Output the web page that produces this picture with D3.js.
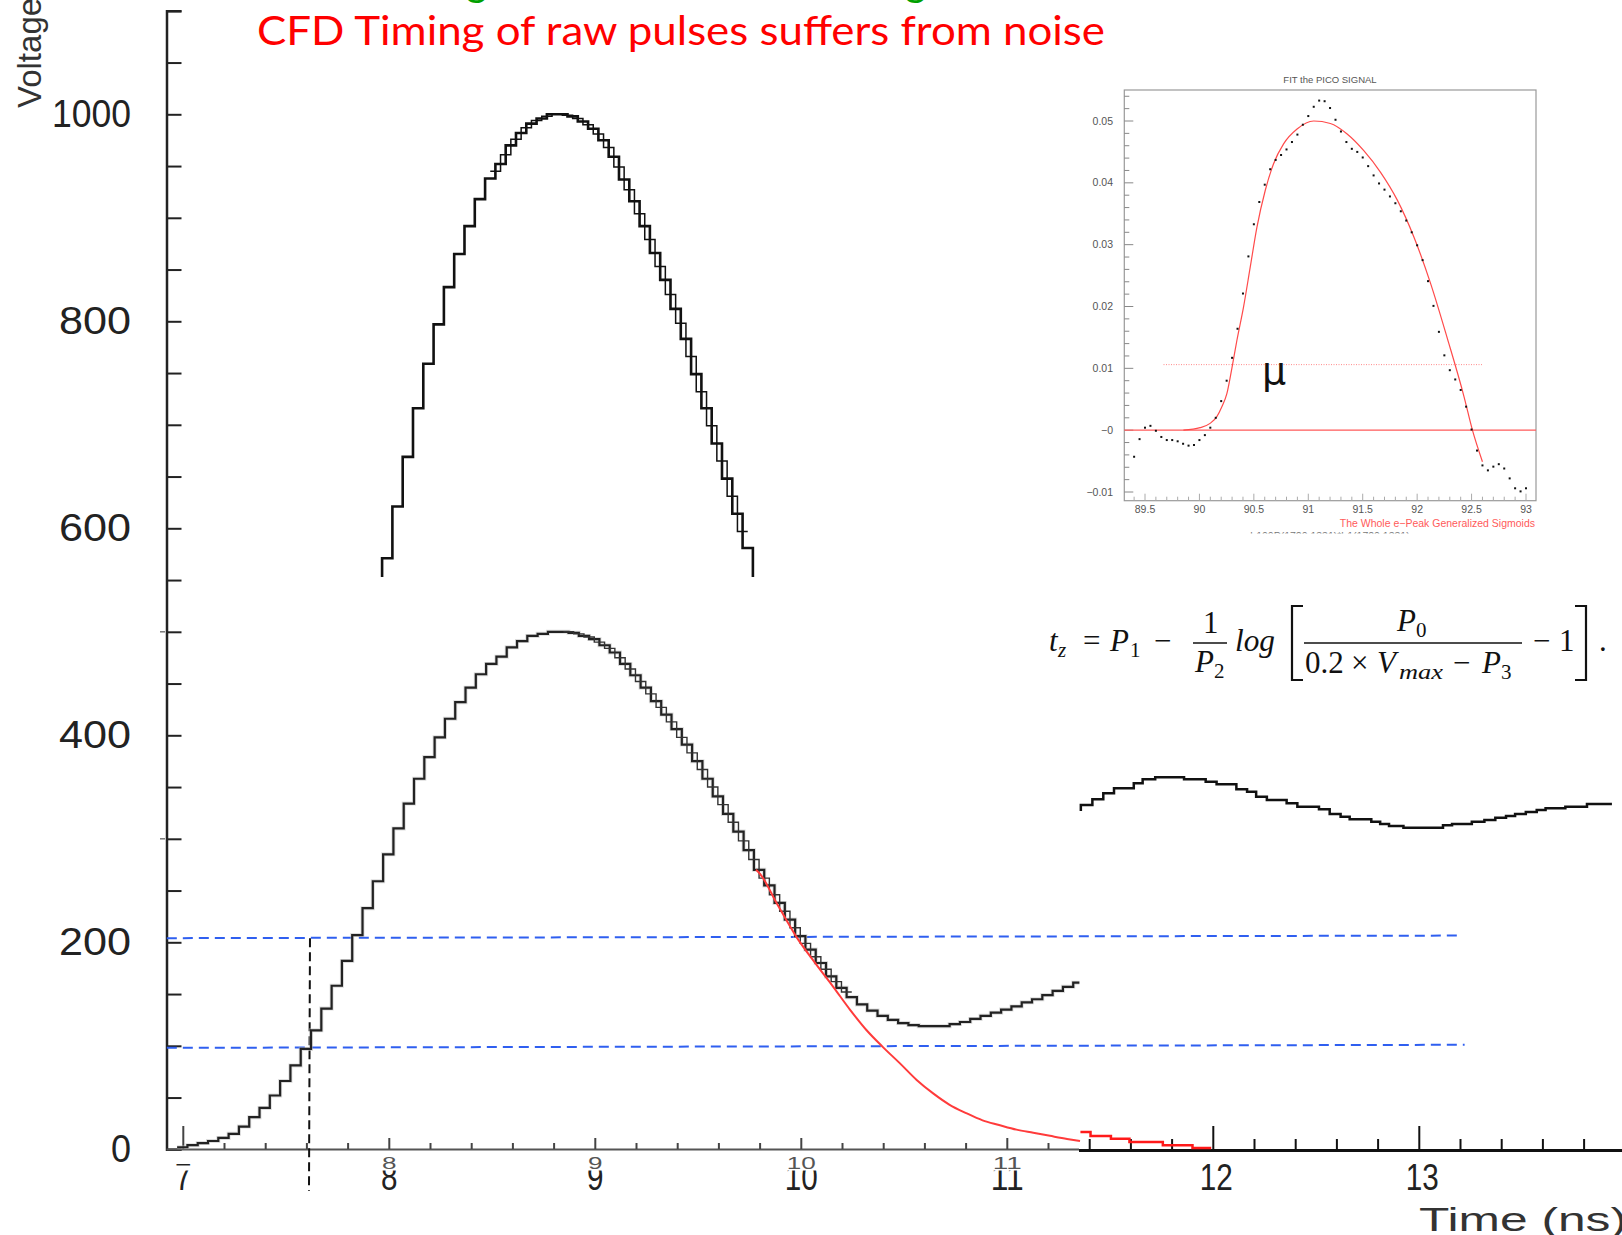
<!DOCTYPE html>
<html>
<head>
<meta charset="utf-8">
<script src="https://cdn.jsdelivr.net/npm/d3@7"></script>
<style>
  html, body { margin: 0; padding: 0; background: #fff; }
  svg { display: block; }
</style>
</head>
<body>
<svg id="chart" width="1622" height="1235"></svg>
<script>
// ---------------- data ----------------
// Upper pulse (scaled x2), 0.05 ns bins
const upperStart = 7.965, binWidth = 0.05;
const upperValues = [571,621,669,716,759,797,833,865,892,918,938,952,970,982,991,996,1000,1000,998,993,
  986,975,959,937,916,892,866,840,812,783,749,716,682,648,614,581];
const upperBase = 553;
// finer overlay histogram on the upper pulse
const upperFineStart = 8.49;
const upperFineValues = [945,961,976,987,994,998,1000,999,996,990,981,968,949,927,904,879,853,826,798,766,732,699,665,631,597];

// Raw pulse, 0.05 ns bins
const lowerStart = 7.02, lowerLead = 6.97, lowerLeadValue = 2, lowerEnd = 11.35;
const lowerValues = [4,6,8,11,15,22,31,40,52,66,81,97,115,136,158,182,207,233,259,285,
  310,334,358,379,398,416,432,446,459,469,476,485,491,496,498,500,500,499,496,493,
  487,480,469,458,446,433,420,406,391,375,358,341,324,307,289,270,255,238,222,206,
  193,180,167,156,147,140,134,129,125,122,120,119,119,119,121,123,126,129,132,135,
  138,142,145,149,153,157,161];
const lowerFineStart = 8.845;
const lowerFineValues = [500,498,495,490,484,475,464,452,440,427,413,398,383,367,350,333,316,298,280,262,246,230,214,199,186,174,162,152];

// Fit of the trailing edge
const fitTimes  = [9.78,9.80,9.88,9.977,10.075,10.155,10.236,10.317,10.395,10.479,10.56,10.64,10.72,10.80,10.88,10.96,11.045,11.126,11.207,11.29,11.353];
const fitValues = [270,266,238,205,178,157,135,115,99,83,67,54,43,35,28,23.5,19,16,13,10,8];
const fitTailTimes  = [11.355,11.404,11.503,11.593,11.755,11.899];
const fitTailValues = [16.8,12.9,10.3,7.1,3.9,1.3];
const fitTailEnd = 11.99;

// Late-time baseline oscillation
const tailTimes  = [11.357,11.413,11.466,11.518,11.614,11.657,11.718,11.858,11.963,12.016,12.112,12.164,12.208,12.26,
  12.356,12.408,12.513,12.565,12.618,12.662,12.767,12.81,12.853,12.923,13.115,13.159,13.255,13.316,13.369,13.421,
  13.465,13.517,13.57,13.613,13.709,13.814];
const tailValues = [332.6,338.2,343.9,348.8,353.6,357.5,359.4,357.5,355.2,352.7,347.8,345.5,340.7,337.5,
  334.3,331,328.5,324,321.4,318.8,316.5,314.3,312.4,310.7,313,314.3,316.5,318.2,320.4,322,
  324,325.9,327.8,329.5,331,333.6];
const tailBase = 326.8, tailEnd = 13.935;

// CFD thresholds (20% and 10%) and crossing time
const thresholdLevels = [[204, 206.5], [98, 101]];
const thresholdEnds = [13.19, 13.22];
const crossingTime = 7.615;

// Axis ticks / labels
const yLabels = [0, 200, 400, 600, 800, 1000];
const yLabelWidths = [20, 72, 72, 72, 72, 79];
const leftTimeLabels = [7, 8, 9, 10, 11];
const rightTimeLabels = [12, 13];

// Inset: sampled PICO signal and its generalized-sigmoid fit
const dotStart = 89.4, dotStep = 0.05;
const dotValues = [-0.0043,-0.00145,0.0004,0.0007,-0.0001,-0.0011,-0.0016,-0.0016,-0.0018,-0.0022,
  -0.0025,-0.0024,-0.0016,-0.0008,0.0004,0.0020,0.0047,0.0080,0.0117,0.0164,
  0.0221,0.0281,0.0333,0.0369,0.0397,0.0422,0.0437,0.0445,0.0454,0.0466,
  0.0478,0.0494,0.0508,0.0523,0.0533,0.0532,0.0521,0.0502,0.0483,0.0466,
  0.0455,0.0450,0.0441,0.0427,0.0412,0.0399,0.0389,0.0378,0.0367,0.0354,
  0.0339,0.0320,0.0299,0.0275,0.0241,0.0201,0.0159,0.0121,0.0097,0.0082,
  0.0065,0.0038,0.0001,-0.0033,-0.0057,-0.0065,-0.0059,-0.0055,-0.0062,-0.0078,
  -0.0094,-0.0099,-0.0094];
const insetFitT = [89.853,90.006,90.098,90.16,90.206,90.252,90.298,90.344,90.405,90.467,90.528,90.605,90.681,90.773,
  90.897,91.05,91.203,91.357,91.51,91.664,91.818,91.971,92.124,92.278,92.431,92.508,92.6];
const insetFitV = [0,0.0004,0.0011,0.0022,0.0038,0.0059,0.0100,0.0145,0.0199,0.0264,0.0328,0.0388,0.0431,0.0463,
  0.0487,0.0500,0.0496,0.0479,0.0452,0.0417,0.0372,0.0312,0.0237,0.0148,0.0054,0.0,-0.0051];
const insetLevel = 0.0106, insetLevelRange = [89.67, 92.6];
const insetXTicks = [89.5, 90, 90.5, 91, 91.5, 92, 92.5, 93];
const insetYTicks = [-0.01, 0, 0.01, 0.02, 0.03, 0.04, 0.05];
const insetYLabels = ["\u22120.01", "\u22120", "0.01", "0.02", "0.03", "0.04", "0.05"];

// ---------------- drawing ----------------
const svg = d3.select("#chart");
svg.append("rect").attr("width", 1622).attr("height", 1235).attr("fill", "#fff");

const x = d3.scaleLinear().domain([7, 14]).range([183.3, 1625.3]);
const y = d3.scaleLinear().domain([0, 1100]).range([1149.3, 10.8]);
const xLeftEdge = 166.5, xSplit = 1079;

function stepPoints(start, width, values, lead, endT, endLevel) {
  const pts = [];
  if (lead) pts.push(lead);
  values.forEach((v, i) => pts.push([start + i * width, v]));
  const tEnd = endT != null ? endT : start + values.length * width;
  pts.push([tEnd, values[values.length - 1]]);
  if (endLevel != null) pts.push([tEnd, endLevel]);
  return pts;
}
function pairPoints(ts, vs, lead, endT, endLevel) {
  const pts = [];
  if (lead) pts.push(lead);
  ts.forEach((t, i) => pts.push([t, vs[i]]));
  pts.push([endT, vs[vs.length - 1]]);
  if (endLevel != null) pts.push([endT, endLevel]);
  return pts;
}
const stepLine = d3.line().x(d => x(d[0])).y(d => y(d[1])).curve(d3.curveStepAfter);
const smoothLine = d3.line().x(d => x(d[0])).y(d => y(d[1])).curve(d3.curveMonotoneX);

// Green heading line cut off at the page top
const greenHead = svg.append("g").attr("fill", "#00a000")
  .attr("font-family", "Lato, 'Open Sans', sans-serif").attr("font-size", 41);
[466, 905].forEach(px => greenHead.append("text").attr("x", px).attr("y", -4).text("g"));

// Title
svg.append("text")
  .attr("x", 257).attr("y", 45)
  .attr("font-family", "Lato, 'Open Sans', sans-serif")
  .attr("font-size", 41).attr("fill", "#ff0000")
  .attr("textLength", 848).attr("lengthAdjust", "spacingAndGlyphs")
  .text("CFD Timing of raw pulses suffers from noise");

// ---- Y axis ----
const yAxis = d3.axisRight(y).tickValues(d3.range(0, 1101, 50)).tickSize(15).tickFormat("");
const gy = svg.append("g").attr("transform", `translate(${xLeftEdge},0)`).call(yAxis);
gy.select(".domain").attr("stroke", "#222").attr("stroke-width", 2.5);
gy.selectAll(".tick line").attr("stroke", "#222").attr("stroke-width", 2);
[300, 500].forEach(v => svg.append("line").attr("x1", 160).attr("x2", 165)
  .attr("y1", y(v)).attr("y2", y(v)).attr("stroke", "#777").attr("stroke-width", 1.5));

svg.append("g").selectAll("text").data(yLabels).join("text")
  .attr("x", 131).attr("y", d => y(d) + 13)
  .attr("text-anchor", "end")
  .attr("font-family", "'Liberation Sans', Arial, sans-serif")
  .attr("font-size", 38).attr("fill", "#222")
  .attr("textLength", (d, i) => yLabelWidths[i]).attr("lengthAdjust", "spacingAndGlyphs")
  .text(d => d);

svg.append("text")
  .attr("transform", "translate(41,108) rotate(-90)")
  .attr("font-family", "'Liberation Sans', Arial, sans-serif")
  .attr("font-size", 33).attr("fill", "#333")
  .text("Voltage");

// ---- X axis, left panel ----
const gxl = svg.append("g");
gxl.append("line").attr("x1", xLeftEdge).attr("x2", xSplit).attr("y1", 1149.5).attr("y2", 1149.5)
  .attr("stroke", "#555").attr("stroke-width", 2.2);
const leftMinor = d3.range(7.2, 11.3, 0.2).filter(t => Math.abs(t - Math.round(t)) > 0.05);
gxl.selectAll("line.mn").data(leftMinor).join("line").attr("class", "mn")
  .attr("x1", d => x(d)).attr("x2", d => x(d)).attr("y1", 1149).attr("y2", 1143)
  .attr("stroke", "#444").attr("stroke-width", 2);
gxl.selectAll("line.mj").data(leftTimeLabels).join("line").attr("class", "mj")
  .attr("x1", d => x(d)).attr("x2", d => x(d)).attr("y1", 1149).attr("y2", d => d === 7 ? 1126 : 1138)
  .attr("stroke", "#444").attr("stroke-width", 2);

// large labels, partly covered by the small ones
svg.append("g").selectAll("text").data(leftTimeLabels).join("text")
  .attr("x", d => x(d)).attr("y", 1189.5).attr("text-anchor", "middle")
  .attr("font-family", "'Liberation Sans', Arial, sans-serif")
  .attr("font-size", 36).attr("fill", "#222")
  .attr("textLength", d => String(d).length * 16.5).attr("lengthAdjust", "spacingAndGlyphs")
  .text(d => d);
svg.append("rect").attr("x", 170).attr("y", 1165.5).attr("width", 906).attr("height", 5).attr("fill", "#fff");
const smallLab = svg.append("g").selectAll("g").data(leftTimeLabels.slice(1)).join("g");
smallLab.append("rect")
  .attr("x", d => x(d) - String(d).length * 8 - 2).attr("y", 1154)
  .attr("width", d => String(d).length * 16 + 4).attr("height", 16).attr("fill", "#fff");
smallLab.append("text")
  .attr("x", d => x(d)).attr("y", 1168.5).attr("text-anchor", "middle")
  .attr("font-family", "'Liberation Sans', Arial, sans-serif")
  .attr("font-size", 17).attr("fill", "#555")
  .attr("textLength", d => String(d).length * 14.5).attr("lengthAdjust", "spacingAndGlyphs")
  .text(d => d);

// ---- X axis, right panel ----
const gxr = svg.append("g");
gxr.append("line").attr("x1", xSplit).attr("x2", 1622).attr("y1", 1150.5).attr("y2", 1150.5)
  .attr("stroke", "#111").attr("stroke-width", 3);
const rightMinor = d3.range(11.4, 14.0, 0.2).filter(t => Math.abs(t - Math.round(t)) > 0.05);
gxr.selectAll("line.mn").data(rightMinor).join("line").attr("class", "mn")
  .attr("x1", d => x(d)).attr("x2", d => x(d)).attr("y1", 1150).attr("y2", 1139)
  .attr("stroke", "#111").attr("stroke-width", 2);
gxr.selectAll("line.mj").data(rightTimeLabels).join("line").attr("class", "mj")
  .attr("x1", d => x(d)).attr("x2", d => x(d)).attr("y1", 1150).attr("y2", 1126)
  .attr("stroke", "#111").attr("stroke-width", 2);
gxr.selectAll("text").data(rightTimeLabels).join("text")
  .attr("x", d => x(d) + 3).attr("y", 1189.5).attr("text-anchor", "middle")
  .attr("font-family", "'Liberation Sans', Arial, sans-serif")
  .attr("font-size", 36).attr("fill", "#222")
  .attr("textLength", 33).attr("lengthAdjust", "spacingAndGlyphs")
  .text(d => d);
svg.append("text")
  .attr("x", 1419).attr("y", 1231)
  .attr("font-family", "'Liberation Sans', Arial, sans-serif")
  .attr("font-size", 34).attr("fill", "#333")
  .attr("textLength", 208).attr("lengthAdjust", "spacingAndGlyphs")
  .text("Time (ns)");

// ---- CFD thresholds ----
thresholdLevels.forEach((lv, i) => {
  svg.append("line")
    .attr("x1", x(6.92)).attr("x2", x(thresholdEnds[i]))
    .attr("y1", y(lv[0])).attr("y2", y(lv[1]))
    .attr("stroke", "#2f5ff0").attr("stroke-width", 2).attr("stroke-dasharray", "10,6");
});
svg.append("line")
  .attr("x1", x(crossingTime)).attr("x2", x(crossingTime) - 1)
  .attr("y1", y(thresholdLevels[0][0])).attr("y2", 1191)
  .attr("stroke", "#111").attr("stroke-width", 2).attr("stroke-dasharray", "9,5");

// ---- pulses ----
svg.append("path")
  .attr("d", stepLine(stepPoints(lowerStart, binWidth, lowerValues, [lowerLead, lowerLeadValue], lowerEnd)))
  .attr("fill", "none").attr("stroke", "#bbb").attr("stroke-width", 4).attr("opacity", 0.5);
svg.append("path")
  .attr("d", stepLine(stepPoints(lowerStart, binWidth, lowerValues, [lowerLead, lowerLeadValue], lowerEnd)))
  .attr("fill", "none").attr("stroke", "#222").attr("stroke-width", 2.2);
svg.append("path")
  .attr("d", stepLine(stepPoints(lowerFineStart, binWidth, lowerFineValues)))
  .attr("fill", "none").attr("stroke", "#333").attr("stroke-width", 1.4);

svg.append("path")
  .attr("d", stepLine(stepPoints(upperStart, binWidth, upperValues, [upperStart, upperBase], null, upperBase)))
  .attr("fill", "none").attr("stroke", "#111").attr("stroke-width", 2.6);
svg.append("path")
  .attr("d", stepLine(stepPoints(upperFineStart, binWidth, upperFineValues)))
  .attr("fill", "none").attr("stroke", "#111").attr("stroke-width", 1.5);

// fit of the trailing edge
svg.append("path")
  .attr("d", smoothLine(fitTimes.map((t, i) => [t, fitValues[i]])))
  .attr("fill", "none").attr("stroke", "#ff3b3b").attr("stroke-width", 2);
svg.append("path")
  .attr("d", stepLine(pairPoints(fitTailTimes, fitTailValues, null, fitTailEnd)))
  .attr("fill", "none").attr("stroke", "#ff1a1a").attr("stroke-width", 2.5);

// late-time oscillation
svg.append("path")
  .attr("d", stepLine(pairPoints(tailTimes, tailValues, [tailTimes[0], tailBase], tailEnd)))
  .attr("fill", "none").attr("stroke", "#111").attr("stroke-width", 2.5);

// ---------------- inset ----------------
const inset = svg.append("g").attr("font-family", "'Liberation Sans', Arial, sans-serif");
const fx0 = 1124.3, fx1 = 1536, fy0 = 90, fy1 = 500.7;
const xi = d3.scaleLinear().domain([89.5, 93]).range([1145, 1526]);
const yi = d3.scaleLinear().domain([-0.01, 0.05]).range([492, 121]);

inset.append("rect").attr("x", fx0).attr("y", fy0).attr("width", fx1 - fx0).attr("height", fy1 - fy0)
  .attr("fill", "#fff").attr("stroke", "#999").attr("stroke-width", 1.2);
inset.append("text").attr("x", 1330).attr("y", 83).attr("text-anchor", "middle")
  .attr("font-size", 9.5).attr("fill", "#555").text("FIT the PICO  SIGNAL");

// y ticks inside the frame
const yMinorI = d3.range(-0.010, 0.0551, 0.002);
inset.selectAll("line.ymn").data(yMinorI).join("line").attr("class", "ymn")
  .attr("x1", fx0).attr("x2", d => fx0 + (Math.abs(d * 100 - Math.round(d * 100)) < 1e-6 ? 9 : 5))
  .attr("y1", d => yi(d)).attr("y2", d => yi(d)).attr("stroke", "#888").attr("stroke-width", 1);
inset.selectAll("text.yl").data(insetYTicks).join("text").attr("class", "yl")
  .attr("x", 1113).attr("y", d => yi(d) + 3.5).attr("text-anchor", "end")
  .attr("font-size", 10.5).attr("fill", "#555")
  .text((d, i) => insetYLabels[i]);

// x ticks
const xMinorI = d3.range(89.4, 93.05, 0.1);
inset.selectAll("line.xmn").data(xMinorI).join("line").attr("class", "xmn")
  .attr("x1", d => xi(d)).attr("x2", d => xi(d)).attr("y1", fy1)
  .attr("y2", d => fy1 - (Math.abs(d * 2 - Math.round(d * 2)) < 1e-6 ? 7 : 4))
  .attr("stroke", "#aaa").attr("stroke-width", 1);
inset.selectAll("text.xl").data(insetXTicks).join("text").attr("class", "xl")
  .attr("x", d => xi(d)).attr("y", 513).attr("text-anchor", "middle")
  .attr("font-size", 10.5).attr("fill", "#555").text(d => d);
inset.append("text").attr("x", 1535).attr("y", 527).attr("text-anchor", "end")
  .attr("font-size", 10.5).attr("fill", "#ff5a5a")
  .text("The Whole e\u2212Peak Generalized Sigmoids");
const clip = svg.append("clipPath").attr("id", "cut");
clip.append("rect").attr("x", 1200).attr("y", 525).attr("width", 260).attr("height", 8.5);
inset.append("text").attr("x", 1330).attr("y", 540).attr("text-anchor", "middle")
  .attr("clip-path", "url(#cut)")
  .attr("font-size", 10.5).attr("fill", "#777").text("h100P(1720:1331)*h1(1720:1331)");

// zero line and CFD level
inset.append("line").attr("x1", fx0).attr("x2", fx1).attr("y1", yi(0)).attr("y2", yi(0))
  .attr("stroke", "#ff5a5a").attr("stroke-width", 1.4);
inset.append("line").attr("x1", xi(insetLevelRange[0])).attr("x2", xi(insetLevelRange[1]))
  .attr("y1", yi(insetLevel)).attr("y2", yi(insetLevel))
  .attr("stroke", "#ff8a8a").attr("stroke-width", 1).attr("stroke-dasharray", "1,1.5");

// fit
const insetLine = d3.line().x(d => xi(d[0])).y(d => yi(d[1])).curve(d3.curveMonotoneX);
inset.append("path").attr("d", insetLine(insetFitT.map((t, i) => [t, insetFitV[i]])))
  .attr("fill", "none").attr("stroke", "#ff4a4a").attr("stroke-width", 1.2);

// samples
inset.selectAll("rect.pt").data(dotValues).join("rect").attr("class", "pt")
  .attr("x", (d, i) => xi(dotStart + i * dotStep) - 1).attr("y", d => yi(d) - 1)
  .attr("width", 2).attr("height", 2).attr("fill", "#111");

inset.append("text").attr("x", 1262).attr("y", 384)
  .attr("font-family", "'DejaVu Sans', 'Liberation Sans', sans-serif")
  .attr("font-size", 38).attr("fill", "#111").text("\u03bc");

// ---------------- formula ----------------
const fm = svg.append("g").attr("font-family", "'Liberation Serif', 'DejaVu Serif', serif").attr("fill", "#111");
function ft(xp, yp, s, size, italic, len) {
  const t = fm.append("text").attr("x", xp).attr("y", yp).attr("font-size", size)
    .attr("font-style", italic ? "italic" : "normal").text(s);
  if (len) t.attr("textLength", len).attr("lengthAdjust", "spacingAndGlyphs");
}
ft(1049, 651, "t", 31, true);
ft(1058, 657, "z", 21, true);
ft(1083, 651, "=", 31, false);
ft(1110, 651, "P", 31, true);
ft(1130, 657, "1", 21, false);
ft(1154, 651, "\u2212", 31, false);
ft(1203, 633, "1", 31, false);
fm.append("line").attr("x1", 1193).attr("x2", 1227).attr("y1", 643).attr("y2", 643).attr("stroke", "#111").attr("stroke-width", 1.5);
ft(1195, 672, "P", 31, true);
ft(1214, 678, "2", 21, false);
ft(1235, 651, "log", 31, true, 40);
fm.append("path").attr("d", "M1303,606 H1292 V680 H1303").attr("fill", "none").attr("stroke", "#111").attr("stroke-width", 2.2);
ft(1397, 631, "P", 31, true);
ft(1416, 637, "0", 21, false);
fm.append("line").attr("x1", 1304).attr("x2", 1522).attr("y1", 643).attr("y2", 643).attr("stroke", "#111").attr("stroke-width", 1.5);
ft(1305, 673, "0.2", 31, false);
ft(1351, 673, "\u00d7", 31, false);
ft(1377, 673, "V", 31, true);
ft(1399, 679, "max", 21, true, 44);
ft(1453, 673, "\u2212", 31, false);
ft(1482, 673, "P", 31, true);
ft(1501, 679, "3", 21, false);
ft(1533, 651, "\u2212", 31, false);
ft(1559, 651, "1", 31, false);
fm.append("path").attr("d", "M1575,606 H1586 V680 H1575").attr("fill", "none").attr("stroke", "#111").attr("stroke-width", 2.2);
ft(1599, 651, ".", 31, false);
</script>
</body>
</html>
